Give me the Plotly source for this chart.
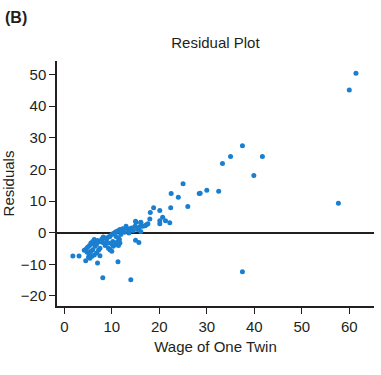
import plotly.graph_objects as go

# Wage of one twin (x) and residuals (y)
wage = [
    25.0, 22.5, 28.4, 24.0, 26.0, 22.4, 18.8, 20.1, 18.1, 20.7, 21.3, 20.1, 20.1, 22.2,
    18.0, 17.6, 16.1, 15.0, 15.0, 15.7, 16.1,
    1.8, 3.1, 4.5, 7.0, 11.3, 8.1, 14.0,
    61.4, 60.0, 37.5, 35.0, 41.7, 33.3, 39.9, 30.0, 28.6, 32.5, 57.7, 37.5,
    4.2, 4.6, 4.9, 5.3, 5.6, 6.0, 6.3, 6.7, 7.0, 7.4, 7.7, 8.1,
    4.8, 5.3, 5.8, 6.3, 6.8, 7.2, 7.5, 6.5, 6.0, 5.6, 5.1, 5.4, 7.5,
    9.3, 9.6, 10.0, 10.3, 10.7, 11.0, 11.4, 11.6, 11.7,
    8.6, 8.9, 9.3, 9.6, 10.0, 10.3, 10.7, 11.0, 11.4, 11.7, 12.1, 12.3, 12.6,
    13.0, 13.3, 13.6, 13.8, 14.2, 14.5, 14.9, 15.1, 15.4, 15.8, 16.1, 16.5, 17.0, 17.3,
    8.2, 7.9, 8.9, 10.2, 10.9, 11.9, 11.4, 10.0, 8.6, 9.3, 6.8, 6.1, 13.6,
]
residual = [
    15.5, 12.4, 12.4, 11.2, 8.3, 7.9, 7.9, 7.0, 6.4, 4.9, 3.8, 3.8, 2.8, 3.1,
    4.3, 2.8, 3.3, 3.6, -2.4, -3.1, 0.4,
    -7.4, -7.4, -8.9, -9.6, -9.2, -14.3, -14.9,
    50.4, 45.1, 27.5, 24.1, 24.1, 21.9, 18.1, 13.4, 12.5, 13.1, 9.3, -12.4,
    -5.6, -5.2, -4.6, -4.1, -3.3, -2.8, -2.2, -2.8, -2.5, -2.9, -2.6, -3.1,
    -6.2, -7.0, -7.5, -7.1, -6.4, -5.6, -4.9, -4.3, -5.4, -5.9, -7.7, -8.1, -7.3,
    -4.9, -5.4, -5.9, -4.3, -3.8, -3.1, -4.1, -2.2, -3.3,
    -1.7, -2.0, -1.4, -1.2, -0.6, -0.3, 0.1, 0.4, 0.7, 1.0, 0.4, 1.2, 0.1,
    2.0, 1.0, 0.4, 1.2, 1.5, 0.7, 2.0, 3.3, 1.0, 1.8, 3.1, 2.0, 2.2, 2.5,
    -1.4, -2.0, -3.3, -2.8, -1.2, -0.6, -1.8, -3.5, -4.1, -3.3, -3.6, -3.6, -0.1,
]

x_ticks = [0, 10, 20, 30, 40, 50, 60]
y_ticks = [-20, -10, 0, 10, 20, 30, 40, 50]

FONT = "Liberation Sans, Arial, Helvetica, sans-serif"
INK = "#231f20"

fig = go.Figure(
    go.Scatter(
        x=wage, y=residual, mode="markers",
        marker=dict(color="#1a7fd0", size=5, line=dict(width=0)),
        showlegend=False,
    )
)

fig.update_layout(
    width=381, height=375,
    margin=dict(l=57, r=7, t=61, b=69),
    paper_bgcolor="white", plot_bgcolor="white",
    font=dict(family=FONT, size=15, color=INK),
    title=dict(text="Residual Plot", x=0.5655, xanchor="center", y=0.885, yanchor="middle",
               font=dict(size=15, color=INK, family=FONT)),
    annotations=[
        dict(text="<b>(B)</b>", xref="paper", yref="paper", x=-0.17, y=1.176,
             xanchor="left", yanchor="middle", showarrow=False,
             font=dict(size=16, color=INK, family=FONT)),
    ],
)

fig.update_xaxes(
    range=[-1.54, 65.2], tickvals=x_ticks, ticks="outside", ticklen=6, tickwidth=1.2,
    tickcolor=INK, showline=True, linecolor=INK, linewidth=1.5, showgrid=False,
    zeroline=False, automargin=False,
    title=dict(text="Wage of One Twin", standoff=8, font=dict(size=15)),
)
fig.update_yaxes(
    range=[-23.2, 54.3], tickvals=y_ticks, ticks="outside", ticklen=6, tickwidth=1.2,
    tickcolor=INK, showline=True, linecolor=INK, linewidth=1.5, showgrid=False,
    zeroline=True, zerolinecolor=INK, zerolinewidth=1.5, automargin=False,
    title=dict(text="Residuals", standoff=6, font=dict(size=15)),
)

fig.write_html("out.html", config={"displayModeBar": False},
               post_script="document.body.style.margin='0';")
